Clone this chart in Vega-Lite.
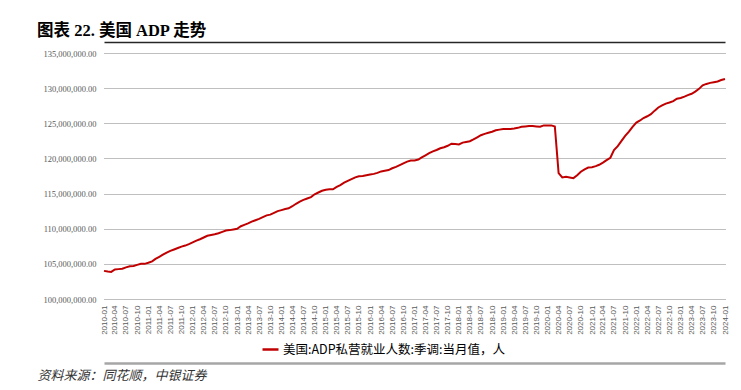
{
"$schema": "https://vega.github.io/schema/vega-lite/v6.json",
"width": 621, "height": 246,
"autosize": "none",
"padding": {"left": 104, "top": 53, "right": 16, "bottom": 91},
"background": "white",
"config": {"view": {"stroke": null}},
"title": {"text": "图表 22. 美国 ADP 走势", "anchor": "start", "frame": "group", "dx": -67, "offset": 3, "font": "Liberation Serif, Noto Sans CJK SC", "fontSize": 16.5, "fontWeight": "bold", "color": "#000000"},
"data": {"values": [
{"d":"2010-01-01","v":104000000},{"d":"2010-02-01","v":103900000},{"d":"2010-03-01","v":103850000},{"d":"2010-04-01","v":104200000},{"d":"2010-05-01","v":104250000},{"d":"2010-06-01","v":104300000},{"d":"2010-07-01","v":104500000},{"d":"2010-08-01","v":104650000},{"d":"2010-09-01","v":104700000},{"d":"2010-10-01","v":104850000},{"d":"2010-11-01","v":105000000},{"d":"2010-12-01","v":105000000},
{"d":"2011-01-01","v":105150000},{"d":"2011-02-01","v":105350000},{"d":"2011-03-01","v":105700000},{"d":"2011-04-01","v":106000000},{"d":"2011-05-01","v":106300000},{"d":"2011-06-01","v":106600000},{"d":"2011-07-01","v":106850000},{"d":"2011-08-01","v":107050000},{"d":"2011-09-01","v":107250000},{"d":"2011-10-01","v":107450000},{"d":"2011-11-01","v":107600000},{"d":"2011-12-01","v":107800000},
{"d":"2012-01-01","v":108050000},{"d":"2012-02-01","v":108300000},{"d":"2012-03-01","v":108500000},{"d":"2012-04-01","v":108750000},{"d":"2012-05-01","v":109000000},{"d":"2012-06-01","v":109100000},{"d":"2012-07-01","v":109200000},{"d":"2012-08-01","v":109350000},{"d":"2012-09-01","v":109550000},{"d":"2012-10-01","v":109750000},{"d":"2012-11-01","v":109800000},{"d":"2012-12-01","v":109900000},
{"d":"2013-01-01","v":110000000},{"d":"2013-02-01","v":110350000},{"d":"2013-03-01","v":110550000},{"d":"2013-04-01","v":110750000},{"d":"2013-05-01","v":111000000},{"d":"2013-06-01","v":111200000},{"d":"2013-07-01","v":111400000},{"d":"2013-08-01","v":111650000},{"d":"2013-09-01","v":111900000},{"d":"2013-10-01","v":112000000},{"d":"2013-11-01","v":112250000},{"d":"2013-12-01","v":112500000},
{"d":"2014-01-01","v":112650000},{"d":"2014-02-01","v":112800000},{"d":"2014-03-01","v":112900000},{"d":"2014-04-01","v":113200000},{"d":"2014-05-01","v":113550000},{"d":"2014-06-01","v":113850000},{"d":"2014-07-01","v":114100000},{"d":"2014-08-01","v":114300000},{"d":"2014-09-01","v":114500000},{"d":"2014-10-01","v":114900000},{"d":"2014-11-01","v":115150000},{"d":"2014-12-01","v":115400000},
{"d":"2015-01-01","v":115550000},{"d":"2015-02-01","v":115600000},{"d":"2015-03-01","v":115600000},{"d":"2015-04-01","v":115950000},{"d":"2015-05-01","v":116200000},{"d":"2015-06-01","v":116550000},{"d":"2015-07-01","v":116800000},{"d":"2015-08-01","v":117050000},{"d":"2015-09-01","v":117300000},{"d":"2015-10-01","v":117450000},{"d":"2015-11-01","v":117500000},{"d":"2015-12-01","v":117600000},
{"d":"2016-01-01","v":117700000},{"d":"2016-02-01","v":117800000},{"d":"2016-03-01","v":117950000},{"d":"2016-04-01","v":118150000},{"d":"2016-05-01","v":118250000},{"d":"2016-06-01","v":118350000},{"d":"2016-07-01","v":118600000},{"d":"2016-08-01","v":118800000},{"d":"2016-09-01","v":119050000},{"d":"2016-10-01","v":119300000},{"d":"2016-11-01","v":119550000},{"d":"2016-12-01","v":119700000},
{"d":"2017-01-01","v":119700000},{"d":"2017-02-01","v":119850000},{"d":"2017-03-01","v":120150000},{"d":"2017-04-01","v":120450000},{"d":"2017-05-01","v":120750000},{"d":"2017-06-01","v":121000000},{"d":"2017-07-01","v":121200000},{"d":"2017-08-01","v":121450000},{"d":"2017-09-01","v":121600000},{"d":"2017-10-01","v":121800000},{"d":"2017-11-01","v":122100000},{"d":"2017-12-01","v":122050000},
{"d":"2018-01-01","v":122000000},{"d":"2018-02-01","v":122250000},{"d":"2018-03-01","v":122350000},{"d":"2018-04-01","v":122450000},{"d":"2018-05-01","v":122700000},{"d":"2018-06-01","v":123000000},{"d":"2018-07-01","v":123300000},{"d":"2018-08-01","v":123500000},{"d":"2018-09-01","v":123650000},{"d":"2018-10-01","v":123800000},{"d":"2018-11-01","v":124000000},{"d":"2018-12-01","v":124100000},
{"d":"2019-01-01","v":124200000},{"d":"2019-02-01","v":124200000},{"d":"2019-03-01","v":124200000},{"d":"2019-04-01","v":124250000},{"d":"2019-05-01","v":124350000},{"d":"2019-06-01","v":124500000},{"d":"2019-07-01","v":124550000},{"d":"2019-08-01","v":124600000},{"d":"2019-09-01","v":124600000},{"d":"2019-10-01","v":124550000},{"d":"2019-11-01","v":124500000},{"d":"2019-12-01","v":124700000},
{"d":"2020-01-01","v":124700000},{"d":"2020-02-01","v":124700000},{"d":"2020-03-01","v":124550000},{"d":"2020-04-01","v":117900000},{"d":"2020-05-01","v":117300000},{"d":"2020-06-01","v":117400000},{"d":"2020-07-01","v":117300000},{"d":"2020-08-01","v":117200000},{"d":"2020-09-01","v":117600000},{"d":"2020-10-01","v":118100000},{"d":"2020-11-01","v":118450000},{"d":"2020-12-01","v":118700000},
{"d":"2021-01-01","v":118750000},{"d":"2021-02-01","v":118900000},{"d":"2021-03-01","v":119100000},{"d":"2021-04-01","v":119400000},{"d":"2021-05-01","v":119750000},{"d":"2021-06-01","v":120100000},{"d":"2021-07-01","v":121200000},{"d":"2021-08-01","v":121750000},{"d":"2021-09-01","v":122500000},{"d":"2021-10-01","v":123200000},{"d":"2021-11-01","v":123800000},{"d":"2021-12-01","v":124500000},
{"d":"2022-01-01","v":125100000},{"d":"2022-02-01","v":125400000},{"d":"2022-03-01","v":125750000},{"d":"2022-04-01","v":126000000},{"d":"2022-05-01","v":126300000},{"d":"2022-06-01","v":126800000},{"d":"2022-07-01","v":127250000},{"d":"2022-08-01","v":127550000},{"d":"2022-09-01","v":127800000},{"d":"2022-10-01","v":127950000},{"d":"2022-11-01","v":128150000},{"d":"2022-12-01","v":128500000},
{"d":"2023-01-01","v":128600000},{"d":"2023-02-01","v":128800000},{"d":"2023-03-01","v":129000000},{"d":"2023-04-01","v":129200000},{"d":"2023-05-01","v":129500000},{"d":"2023-06-01","v":129900000},{"d":"2023-07-01","v":130400000},{"d":"2023-08-01","v":130600000},{"d":"2023-09-01","v":130750000},{"d":"2023-10-01","v":130850000},{"d":"2023-11-01","v":130950000},{"d":"2023-12-01","v":131150000},
{"d":"2024-01-01","v":131300000}
]},
"encoding": {
  "y": {"field": "v", "type": "quantitative", "scale": {"domain": [100000000, 135000000], "nice": false, "zero": false},
    "axis": {"values": [100000000,105000000,110000000,115000000,120000000,125000000,130000000,135000000], "format": ",.2f", "labelFont": "Liberation Serif", "labelFontSize": 8.5, "labelColor": "#595959", "labelPadding": 8, "domain": false, "ticks": false, "tickSize": 0, "grid": true, "gridColor": "#7F7F7F", "gridDash": [1, 1], "gridWidth": 1, "title": null}}
},
"resolve": {"axis": {"x": "independent"}},
"layer": [
  {"mark": {"type": "line", "strokeOpacity": 0},
   "encoding": {"x": {"field": "d", "type": "temporal", "scale": {"type": "utc", "domain": [{"year": 2010, "month": 1, "date": 1, "utc": true}, {"year": 2024, "month": 1, "date": 1, "utc": true}]},
     "axis": {"orient": "top", "labels": false, "ticks": false, "grid": false, "domain": true, "domainColor": "#262626", "domainWidth": 1.5, "offset": 11, "title": null}}}},
  {"mark": {"type": "line", "strokeWidth": 2},
   "encoding": {
     "x": {"field": "d", "type": "temporal", "scale": {"type": "utc", "domain": [{"year": 2010, "month": 1, "date": 1, "utc": true}, {"year": 2024, "month": 1, "date": 1, "utc": true}]},
       "axis": {"orient": "bottom", "offset": 64, "domain": true, "domainColor": "#A6A6A6", "domainWidth": 2.5, "ticks": false, "tickSize": 0, "grid": false, "labelAngle": -90, "labelPadding": -58, "labelFont": "Liberation Sans", "labelFontSize": 8, "labelColor": "#595959", "labelOverlap": false, "labelFlush": false, "labelBound": false, "labelExpr": "utcFormat(datum.value, '%Y-%m')", "tickCount": {"interval": "month", "step": 3},
         "title": "资料来源：同花顺，中银证券", "titleFont": "Noto Sans CJK SC", "titleFontStyle": "italic", "titleFontWeight": "normal", "titleFontSize": 13, "titleColor": "#333333", "titleX": -67, "titleY": 12, "titleAlign": "left", "titleBaseline": "middle", "titleAngle": 0}},
     "color": {"datum": "美国:ADP私营就业人数:季调:当月值，人", "type": "nominal", "scale": {"range": ["#C00000"]},
       "legend": {"orient": "none", "legendX": 157, "legendY": 287, "direction": "horizontal", "title": null, "labelFont": "Noto Sans CJK SC", "labelFontSize": 12.5, "labelColor": "#000000", "labelLimit": 0, "symbolType": "stroke", "symbolStrokeWidth": 2.5, "symbolSize": 256, "labelOffset": 3, "padding": 0}}
   }}
]
}
